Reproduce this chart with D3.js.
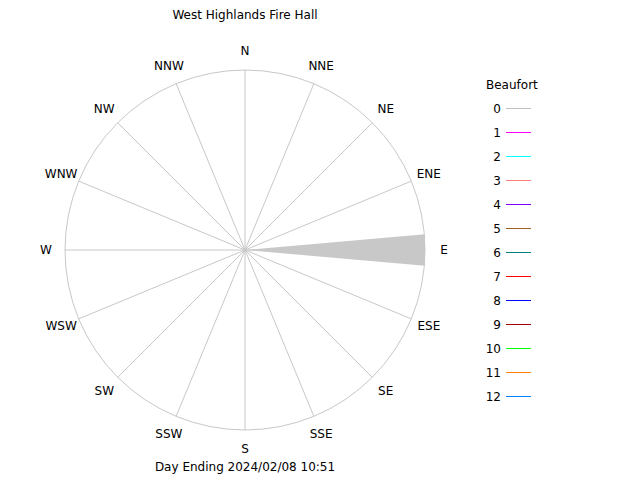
<!DOCTYPE html>
<html><head><meta charset="utf-8">
<script src="https://cdn.jsdelivr.net/npm/d3@7"></script>
<style>body{margin:0;background:#fff}text{font-family:"DejaVu Sans",sans-serif;font-size:12px;fill:#000}</style>
</head><body><svg id="c" width="640" height="480"></svg>
<script>
const directions = ["N","NNE","NE","ENE","E","ESE","SE","SSE","S","SSW","SW","WSW","W","WNW","NW","NNW"];
// fraction of observations per direction (all Beaufort 0)
const frequency = [0,0,0,0,1,0,0,0,0,0,0,0,0,0,0,0];
const beaufort = ["0","1","2","3","4","5","6","7","8","9","10","11","12"];
const beaufortColors = ["#c0c0c0","#ff00ff","#00ffff","#ff8080","#8000ff","#a06020","#008080","#ff0000","#0000ff","#a00000","#00ff00","#ff8000","#0080ff"];

const svg = d3.select("#c");
const cx = 245, cy = 250, R = 180;
const r = d3.scaleLinear().domain([0, d3.max(frequency)]).range([0, R]);
const ang = d3.scaleLinear().domain([0, 16]).range([0, 2 * Math.PI]);
const pt = (a, d) => [cx + d * Math.sin(a), cy - d * Math.cos(a)];

svg.append("circle").attr("cx", cx).attr("cy", cy).attr("r", R)
  .attr("fill", "none").attr("stroke", "#c8c8c8");
directions.forEach((d, i) => {
  const [x, y] = pt(ang(i), R);
  svg.append("line").attr("x1", cx).attr("y1", cy).attr("x2", x).attr("y2", y).attr("stroke", "#c8c8c8");
  const [lx, ly] = pt(ang(i), R + 19);
  svg.append("text").attr("x", lx).attr("y", ly + 4).attr("text-anchor", "middle").text(d);
});

const half = 5 * Math.PI / 180;
frequency.forEach((f, i) => {
  if (!f) return;
  const a = ang(i), len = r(f) / Math.cos(half);
  const p1 = pt(a - half, len), p2 = pt(a + half, len);
  svg.append("polygon").attr("points", [[cx, cy], p1, p2].map(p => p.join(",")).join(" "))
    .attr("fill", "#c8c8c8");
});

svg.append("text").attr("x", 245).attr("y", 19).attr("text-anchor", "middle").text("West Highlands Fire Hall");
svg.append("text").attr("x", 245).attr("y", 471).attr("text-anchor", "middle").text("Day Ending 2024/02/08 10:51");

const ly = d3.scalePoint().domain(beaufort).range([108, 396]);
svg.append("text").attr("x", 486).attr("y", 89).text("Beaufort");
beaufort.forEach((b, i) => {
  svg.append("text").attr("x", 501).attr("y", ly(b) + 5).attr("text-anchor", "end").text(b);
  svg.append("line").attr("x1", 506).attr("x2", 531).attr("y1", ly(b) + 0.5).attr("y2", ly(b) + 0.5)
    .attr("stroke", beaufortColors[i]).attr("shape-rendering", "crispEdges");
});
</script></body></html>
